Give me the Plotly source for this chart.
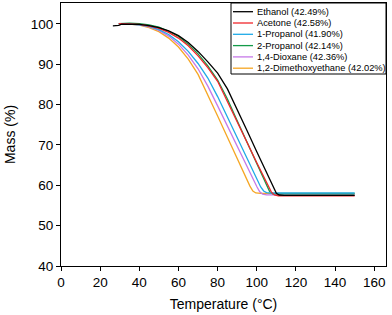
import plotly.graph_objects as go

# ---------------- data ----------------
names = ["Ethanol", "Acetone", "1-Propanol", "2-Propanol", "1,4-Dioxane", "1,2-Dimethoxyethane"]
losses = [42.49, 42.58, 41.90, 42.14, 42.36, 42.02]
colors = ["#000000", "#f0262b", "#1eaae7", "#139b48", "#c679e8", "#f6a623"]

eth_T = [26.5, 28, 29.5, 31, 35, 40, 45, 50, 55, 60, 65, 70, 75, 80, 85, 90, 95, 100, 105, 107, 108.5, 110, 111.5, 114, 150]
eth_M = [99.55, 99.6, 99.65, 99.95, 100.0, 99.9, 99.6, 99.1, 98.3, 97.1, 95.4, 93.2, 90.6, 87.8, 83.9, 78.9, 73.6, 68.3, 63.0, 60.9, 59.3, 58.0, 57.6, 57.5, 57.51]

ace_T = [29.5, 32, 35, 40, 45, 50, 55, 60, 65, 70, 75, 80, 85, 90, 95, 100, 104, 106, 107.5, 109, 111, 150]
ace_M = [100.1, 100.1, 100.0, 99.9, 99.5, 98.9, 97.9, 96.5, 94.6, 92.1, 89.2, 85.8, 80.9, 75.8, 70.7, 65.6, 61.6, 59.6, 58.3, 57.6, 57.42, 57.42]

pr1_T = [29.5, 32, 35, 40, 45, 50, 55, 60, 65, 70, 75, 80, 85, 90, 95, 100, 102, 103.5, 105, 107, 150]
pr1_M = [100.1, 100.1, 100.0, 99.8, 99.4, 98.6, 97.4, 95.6, 93.2, 90.2, 86.6, 82.0, 76.9, 71.7, 66.5, 61.4, 59.6, 58.6, 58.2, 58.1, 58.1]

pr2_T = [29.5, 32, 35, 40, 45, 50, 55, 60, 65, 70, 75, 80, 85, 90, 95, 100, 103, 105, 106.5, 108, 150]
pr2_M = [100.1, 100.2, 100.2, 100.1, 99.8, 99.2, 98.2, 96.9, 95.0, 92.6, 89.6, 86.1, 81.4, 76.0, 70.6, 65.2, 61.9, 59.8, 58.5, 57.9, 57.86]

dio_T = [29.5, 32, 35, 40, 45, 50, 55, 60, 65, 70, 75, 80, 85, 90, 95, 98, 100, 101.5, 103, 105, 150]
dio_M = [100.1, 100.1, 100.0, 99.8, 99.3, 98.4, 97.0, 95.0, 92.3, 88.9, 84.6, 79.7, 74.6, 69.6, 64.6, 61.6, 59.7, 58.4, 57.8, 57.64, 57.64]

dme_T = [29.5, 32, 35, 40, 45, 50, 55, 60, 65, 70, 75, 80, 85, 90, 93, 95, 96.5, 98, 99.5, 102, 150]
dme_M = [100.1, 100.1, 100.0, 99.7, 99.1, 98.1, 96.5, 94.3, 91.3, 87.5, 82.5, 77.2, 71.9, 66.6, 63.4, 61.3, 59.8, 58.6, 58.1, 57.98, 57.98]

series_T = [eth_T, ace_T, pr1_T, pr2_T, dio_T, dme_T]
series_M = [eth_M, ace_M, pr1_M, pr2_M, dio_M, dme_M]

x_ticks = [0, 20, 40, 60, 80, 100, 120, 140, 160]
y_ticks = [40, 50, 60, 70, 80, 90, 100]

FONT = "Liberation Sans, Arial, sans-serif"

fig = go.Figure()
# draw in reverse so black is on top
for i in reversed(range(len(names))):
    fig.add_trace(go.Scatter(
        x=series_T[i], y=series_M[i], mode="lines",
        name=f"{names[i]} ({losses[i]:.2f}%)",
        line=dict(color=colors[i], width=1.3),
        showlegend=False,
    ))

# ---------------- manual legend (paper coords) ----------------
W, H = 392, 315
L, R, T, B = 61, 6, 3, 49
pw, ph = W - L - R, H - T - B

def px_x(x):
    return (x - L) / pw

def px_y(y):
    return (H - B - y) / ph

shapes = [dict(type="rect", xref="paper", yref="paper",
               x0=px_x(231), x1=1.0, y0=px_y(74), y1=1.0,
               line=dict(color="#000000", width=1), fillcolor="white", layer="above")]
annotations = []
for i in range(len(names)):
    yc = px_y(11.7 + 11.3 * i)
    shapes.append(dict(type="line", xref="paper", yref="paper",
                       x0=px_x(233), x1=px_x(253), y0=yc, y1=yc,
                       line=dict(color=colors[i], width=1.3), layer="above"))
    annotations.append(dict(xref="paper", yref="paper", x=px_x(255), y=yc,
                            xanchor="left", yanchor="middle", showarrow=False,
                            text=f"{names[i]} ({losses[i]:.2f}%)",
                            font=dict(family=FONT, size=9.3, color="#000000")))

axis_common = dict(showline=True, mirror=True, linecolor="#000000", linewidth=1,
                   ticks="outside", ticklen=4, tickcolor="#000000", tickwidth=1,
                   showgrid=False, zeroline=False,
                   tickfont=dict(family=FONT, size=13.5, color="#000000"))

fig.update_layout(
    width=W, height=H,
    margin=dict(l=L, r=R, t=T, b=B),
    paper_bgcolor="white", plot_bgcolor="white",
    font=dict(family=FONT, color="#000000"),
    xaxis=dict(range=[0, 166], tickvals=x_ticks,
               title=dict(text="Temperature (°C)", font=dict(family=FONT, size=14), standoff=9),
               **axis_common),
    yaxis=dict(range=[40, 105.2], tickvals=y_ticks,
               title=dict(text="Mass (%)", font=dict(family=FONT, size=14), standoff=11),
               **axis_common),
    shapes=shapes,
    annotations=annotations,
    showlegend=False,
)

fig.write_html("out.html", config={"displayModeBar": False},
               post_script="document.body.style.margin='0';document.body.style.padding='0';")
